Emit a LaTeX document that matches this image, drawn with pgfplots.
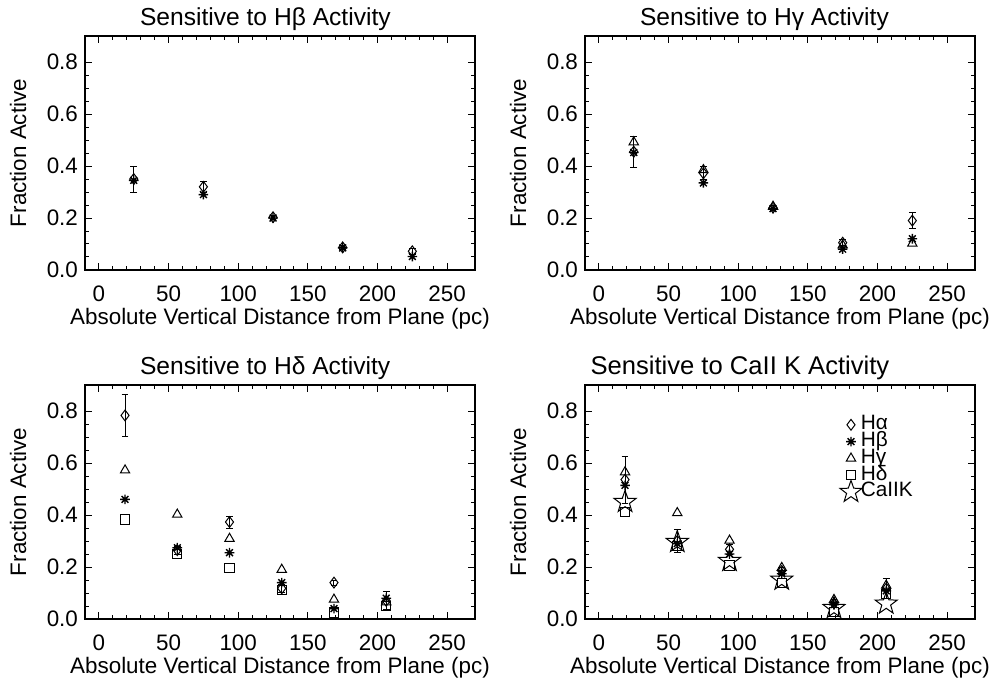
\documentclass[border=0pt]{standalone}
\usepackage{fontspec}
\setmainfont{Liberation Sans}
\usepackage{pgfplots}
\pgfplotsset{compat=1.18}
\pgfdeclareplotmark{idlast}{%
  \pgfpathmoveto{\pgfqpoint{-\pgfplotmarksize}{0pt}}\pgfpathlineto{\pgfqpoint{\pgfplotmarksize}{0pt}}%
  \pgfpathmoveto{\pgfqpoint{0pt}{-\pgfplotmarksize}}\pgfpathlineto{\pgfqpoint{0pt}{\pgfplotmarksize}}%
  \pgfpathmoveto{\pgfqpoint{-0.7071\pgfplotmarksize}{-0.7071\pgfplotmarksize}}\pgfpathlineto{\pgfqpoint{0.7071\pgfplotmarksize}{0.7071\pgfplotmarksize}}%
  \pgfpathmoveto{\pgfqpoint{-0.7071\pgfplotmarksize}{0.7071\pgfplotmarksize}}\pgfpathlineto{\pgfqpoint{0.7071\pgfplotmarksize}{-0.7071\pgfplotmarksize}}%
  \pgfusepathqstroke}
\pgfdeclareplotmark{ostar}{%
  \pgfpathmoveto{\pgfqpointpolar{90}{\pgfplotmarksize}}%
  \pgfpathlineto{\pgfqpointpolar{126}{0.4\pgfplotmarksize}}%
  \pgfpathlineto{\pgfqpointpolar{162}{\pgfplotmarksize}}%
  \pgfpathlineto{\pgfqpointpolar{198}{0.4\pgfplotmarksize}}%
  \pgfpathlineto{\pgfqpointpolar{234}{\pgfplotmarksize}}%
  \pgfpathlineto{\pgfqpointpolar{270}{0.4\pgfplotmarksize}}%
  \pgfpathlineto{\pgfqpointpolar{306}{\pgfplotmarksize}}%
  \pgfpathlineto{\pgfqpointpolar{342}{0.4\pgfplotmarksize}}%
  \pgfpathlineto{\pgfqpointpolar{18}{\pgfplotmarksize}}%
  \pgfpathlineto{\pgfqpointpolar{54}{0.4\pgfplotmarksize}}%
  \pgfpathclose\pgfusepathqstroke}
\pgfplotsset{
  every axis title shift=0pt,
  panel/.style={
    scale only axis, width=195pt, height=117pt, anchor=south west,
    xmin=-10, xmax=270, ymin=0, ymax=0.9,
    xtick={0,50,100,150,200,250}, ytick={0,0.2,0.4,0.6,0.8},
    minor x tick num=4, minor y tick num=3,
    tick align=inside, major tick length=3.5pt, minor tick length=2pt,
    axis line style={line width=0.9pt},
    every tick/.append style={line width=0.5pt, black},
    tick label style={font=\fontsize{11.2}{13}\selectfont},
    /pgf/number format/assume math mode=true,
    yticklabel style={/pgf/number format/fixed, /pgf/number format/fixed zerofill, /pgf/number format/precision=1},
    xticklabel style={anchor=base, yshift=-15.8pt},
    label style={font=\fontsize{11.2}{13}\selectfont},
    xlabel={Absolute Vertical Distance from Plane (pc)},
    ylabel={Fraction Active},
    xlabel style={at={(axis description cs:0.5,-0.235)}, anchor=base},
    ylabel style={at={(axis description cs:-0.151,0.5)}, anchor=base},
    title style={at={(axis description cs:0.123,1.0457)}, anchor=base west, yshift=0pt, font=\fontsize{12.3}{14}\selectfont},
    clip=false,
  },
  leg/.style={legend image code/.code={\draw[##1,overlay] plot coordinates {(0pt,0pt)};}},
  sa/.style={black, only marks, mark=diamond, mark size=2.7pt, mark options={line width=0.5pt, fill=none, solid}, leg,
    error bars/.cd, y dir=both, y explicit, error mark=-, error mark options={rotate=90, mark size=1.7pt, line width=0.5pt}, error bar style={line width=0.5pt}},
  sb/.style={black, only marks, mark=idlast, mark size=2.4pt, mark options={line width=0.7pt}, leg},
  sg/.style={black, only marks, mark=triangle, mark size=2.7pt, mark options={line width=0.5pt, fill=none}, leg},
  sd/.style={black, only marks, mark=square, mark size=2.3pt, mark options={line width=0.5pt, fill=none}, leg},
  sk/.style={black, only marks, mark=ostar, mark size=5.8pt, mark options={line width=0.5pt, fill=none}, leg},
}
\begin{document}
\begin{tikzpicture}
\useasboundingbox (0,0) rectangle (500pt,-341.5pt);
% Panel 1
\begin{axis}[panel, at={(42.5pt,-135pt)}, title={Sensitive to Hβ Activity}]
\addplot+[sa] coordinates {(25,0.350) +- (0,0.050) (75,0.320) +- (0,0.020) (125,0.203) +- (0,0.008) (175,0.087) +- (0,0.007) (225,0.072) +- (0,0.012)};
\addplot+[sb] coordinates {(25,0.345) (75,0.290) (125,0.200) (175,0.085) (225,0.052)};
\end{axis}
% Panel 2
\begin{axis}[panel, at={(292.5pt,-135pt)}, title={Sensitive to Hγ Activity}]
\addplot+[sa] coordinates {(25,0.455) +- (0,0.060) (75,0.372) +- (0,0.025) (125,0.240) +- (0,0.010) (175,0.105) +- (0,0.012) (225,0.190) +- (0,0.032)};
\addplot+[sb] coordinates {(25,0.452) (75,0.335) (125,0.236) (175,0.080) (225,0.120)};
\addplot+[sg] coordinates {(25,0.492) (75,0.385) (125,0.244) (175,0.095) (225,0.102)};
\end{axis}
% Panel 3
\begin{axis}[panel, at={(42.5pt,-309.5pt)}, title={Sensitive to Hδ Activity}]
\addplot+[sa] coordinates {(18.75,0.783) +- (0,0.080) (56.25,0.265) +- (0,0.015) (93.75,0.373) +- (0,0.023) (131.25,0.118) +- (0,0.015) (168.75,0.140) +- (0,0.010) (206.25,0.070) +- (0,0.035)};
\addplot+[sb] coordinates {(18.75,0.460) (56.25,0.274) (93.75,0.255) (131.25,0.140) (168.75,0.040) (206.25,0.080)};
\addplot+[sg] coordinates {(18.75,0.572) (56.25,0.402) (93.75,0.309) (131.25,0.190) (168.75,0.075) (206.25,0.065)};
\addplot+[sd] coordinates {(18.75,0.383) (56.25,0.251) (93.75,0.197) (131.25,0.112) (168.75,0.025) (206.25,0.050)};
\end{axis}
% Panel 4
\begin{axis}[panel, at={(292.5pt,-309.5pt)}, title={Sensitive to CaII K Activity},
  title style={at={(axis description cs:-0.004,1.0457)}, font=\fontsize{12.8}{14}\selectfont},
  legend cell align=left,
  legend style={draw=none, fill=none, at={(0.681,0.866)}, anchor=north west, inner sep=0pt, column sep=4.9pt, row sep=0.4pt,
    nodes={inner sep=0pt, text height=6.5pt, text depth=1.5pt, font=\fontsize{10.4}{12}\selectfont}}]
\addplot+[sa] coordinates {(18.75,0.536) +- (0,0.090) (56.25,0.300) +- (0,0.045) (93.75,0.268) +- (0,0.020) (131.25,0.185) +- (0,0.015) (168.75,0.060) +- (0,0.015) (206.25,0.117) +- (0,0.040)};
\addlegendentry{Hα}
\addplot+[sb] coordinates {(18.75,0.514) (56.25,0.290) (93.75,0.250) (131.25,0.174) (168.75,0.055) (206.25,0.108)};
\addlegendentry{Hβ}
\addplot+[sg] coordinates {(18.75,0.565) (56.25,0.408) (93.75,0.302) (131.25,0.197) (168.75,0.074) (206.25,0.129)};
\addlegendentry{Hγ}
\addplot+[sd] coordinates {(18.75,0.412) (56.25,0.280) (93.75,0.206) (131.25,0.140) (168.75,0.027) (206.25,0.097)};
\addlegendentry{Hδ}
\addplot+[sk] coordinates {(18.75,0.450) (56.25,0.296) (93.75,0.223) (131.25,0.151) (168.75,0.042) (206.25,0.059)};
\addlegendentry{CaIIK}
\end{axis}
\end{tikzpicture}
\end{document}
